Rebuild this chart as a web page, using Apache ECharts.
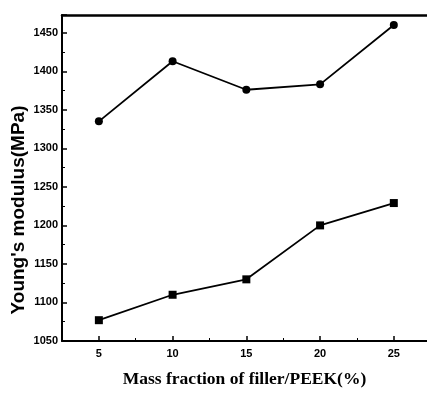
<!DOCTYPE html>
<html>
<head>
<meta charset="utf-8">
<script src="https://cdn.jsdelivr.net/npm/echarts@6/dist/echarts.min.js"></script>
<style>
  html, body { margin: 0; padding: 0; background: #fff; }
  #chart { width: 427px; height: 393px; }
</style>
</head>
<body>
<div id="chart"></div>
<script>
// 填料质量分数 (%)
const massFraction = [5, 10, 15, 20, 25]
// 上面一条 (圆点)
const upperModulus = [1335, 1413, 1376, 1383, 1460]
// 下面一条 (方块)
const lowerModulus = [1077, 1110, 1130, 1200, 1229]
// 次刻度位置
const xMinorTicks = [7.5, 12.5, 17.5, 22.5]

const toPairs = (xs, ys) => xs.map((x, i) => [x, ys[i]])

const chart = echarts.init(document.getElementById('chart'))

const X_MIN = 2.5
const X_MAX = 27.25

const tickFont = {
  color: '#000',
  fontSize: 11,
  fontWeight: 'bold',
  fontFamily: '"Liberation Sans Narrow", "Liberation Sans", Arial, sans-serif'
}

const option = {
  animation: false,
  grid: {
    left: 62,
    right: 0,
    top: 15,
    bottom: 50
  },
  graphic: [
    {
      // 纵轴标题
      type: 'text',
      rotation: Math.PI / 2,
      x: 19,
      y: 210,
      style: {
        text: "Young's modulus(MPa)",
        fill: '#000',
        font: 'bold 19px "Liberation Sans", Arial, sans-serif',
        align: 'center',
        verticalAlign: 'middle'
      }
    }
  ],
  xAxis: [
    {
      type: 'value',
      min: X_MIN,
      max: X_MAX,
      interval: 2.5,
      name: 'Mass fraction of filler/PEEK(%)',
      nameLocation: 'middle',
      nameGap: 29,
      nameTextStyle: {
        color: '#000',
        fontSize: 17.5,
        fontWeight: 'bold',
        fontFamily: '"Liberation Serif", "Times New Roman", serif'
      },
      axisLine: { lineStyle: { color: '#000', width: 2 } },
      axisTick: {
        inside: true,
        length: 5,
        customValues: massFraction,
        lineStyle: { color: '#000', width: 1.5 }
      },
      splitLine: { show: false },
      axisLabel: {
        ...tickFont,
        margin: 7,
        customValues: massFraction,
        formatter: v => String(v)
      }
    },
    {
      // 次刻度
      type: 'value',
      position: 'bottom',
      min: X_MIN,
      max: X_MAX,
      interval: 2.5,
      axisLine: { show: false },
      axisTick: {
        inside: true,
        length: 3,
        customValues: xMinorTicks,
        lineStyle: { color: '#000', width: 1 }
      },
      axisLabel: { show: false },
      splitLine: { show: false }
    },
    {
      // 上边框
      type: 'value',
      position: 'top',
      min: X_MIN,
      max: X_MAX,
      axisLine: { show: true, lineStyle: { color: '#000', width: 2.5 } },
      axisTick: { show: false },
      axisLabel: { show: false },
      splitLine: { show: false }
    }
  ],
  yAxis: {
    type: 'value',
    min: 1050,
    max: 1473,
    interval: 50,
    axisLine: { show: true, lineStyle: { color: '#000', width: 2 } },
    axisTick: { inside: true, length: 5, lineStyle: { color: '#000', width: 1.5 } },
    minorTick: { show: true, splitNumber: 2, length: 3, lineStyle: { color: '#000' } },
    splitLine: { show: false },
    axisLabel: {
      ...tickFont,
      margin: 4,
      formatter: v => (v > 1460 ? '' : String(v))
    }
  },
  series: [
    {
      name: 'upper',
      type: 'line',
      data: toPairs(massFraction, upperModulus),
      symbol: 'circle',
      symbolSize: 8,
      lineStyle: { color: '#000', width: 1.8 },
      itemStyle: { color: '#000' }
    },
    {
      name: 'lower',
      type: 'line',
      data: toPairs(massFraction, lowerModulus),
      symbol: 'rect',
      symbolSize: 8,
      lineStyle: { color: '#000', width: 1.8 },
      itemStyle: { color: '#000' }
    }
  ]
}

chart.setOption(option)
</script>
</body>
</html>
